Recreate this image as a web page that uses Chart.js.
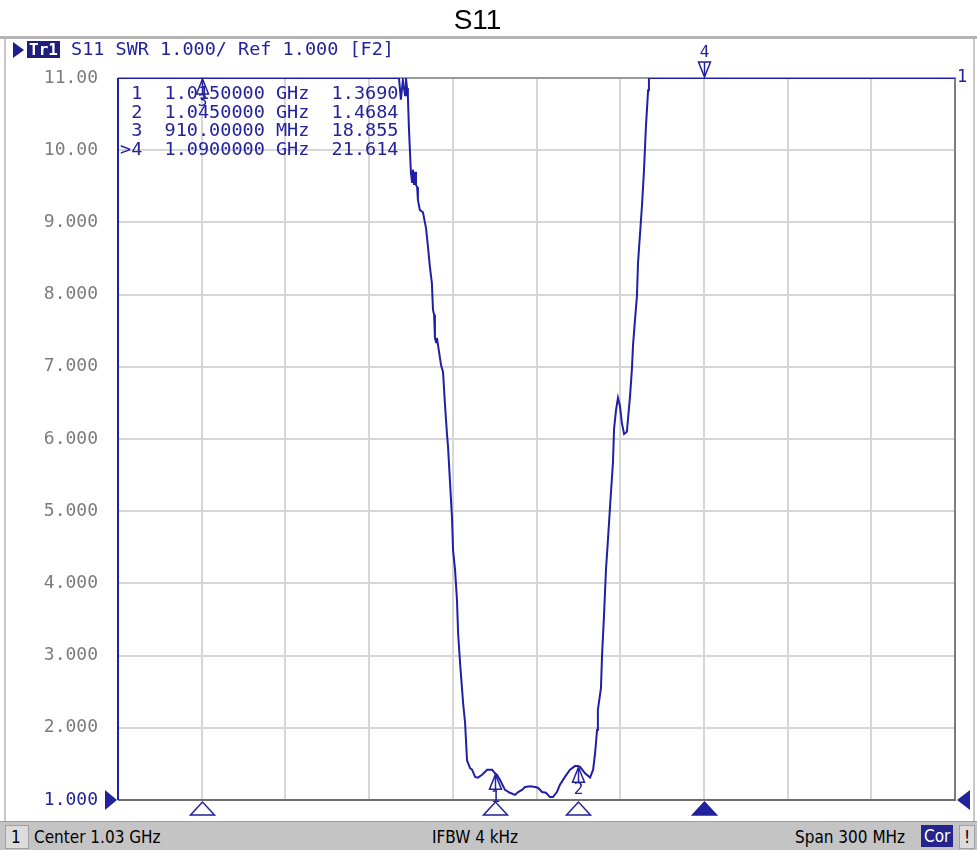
<!DOCTYPE html>
<html><head><meta charset="utf-8">
<script src="https://cdn.jsdelivr.net/npm/chart.js@4.4.1/dist/chart.umd.min.js"></script>
<style>
html,body{margin:0;padding:0;background:#fff;}
#wrap{position:relative;width:977px;height:850px;overflow:hidden;background:#fff;}
#c{position:absolute;left:0;top:0;}
.abs{position:absolute;white-space:pre;}
.mono{font-family:'DejaVu Sans Mono',monospace;font-size:18.5px;color:#22229c;line-height:18.7px;}
.st{font-family:'DejaVu Sans Condensed','Liberation Sans',sans-serif;font-size:17px;color:#000;top:827px;}
</style></head>
<body><div id="wrap">
<canvas id="c" width="977" height="850"></canvas>
<!-- window frame -->
<div class="abs" style="left:0;top:36px;width:977px;height:3px;background:#b4b4b4;"></div>
<div class="abs" style="left:4px;top:39px;width:2px;height:783px;background:#c8c8c8;"></div>
<div class="abs" style="left:973px;top:39px;width:2px;height:783px;background:#c8c8c8;"></div>
<!-- header -->
<div class="abs" style="left:13px;top:42px;width:0;height:0;border-top:8px solid transparent;border-bottom:8px solid transparent;border-left:11px solid #1e1e8c;"></div>
<div class="abs mono" id="tr" style="left:27px;top:41px;height:17px;padding:0 2px;background:#1e1e7c;color:#fff;font-weight:bold;font-size:16px;line-height:17px;"></div>
<div class="abs mono" id="hdr" style="left:71px;top:40px;"></div>
<!-- marker table -->
<div class="abs mono" id="mtab" style="left:120px;top:84px;"></div>
<!-- status bar -->
<div class="abs" style="left:0;top:821px;width:977px;height:29px;background:#c4c4c4;border-top:1px solid #9c9c9c;"></div>
<div class="abs" style="left:5px;top:825px;width:22px;height:22px;background:#dcdcdc;border:1px solid #a0a0a0;"></div>
<div class="abs st" id="s1" style="left:11px;"></div>
<div class="abs st" id="s2" style="left:34px;"></div>
<div class="abs st" id="s3" style="left:432px;"></div>
<div class="abs st" id="s4" style="left:795px;"></div>
<div class="abs st" id="s5" style="left:921px;top:825px;height:22px;line-height:22px;padding:0 3px;background:#24248c;color:#fff;"></div>
<div class="abs st" id="s6" style="left:959px;top:825px;height:22px;line-height:22px;padding:0 4px;background:#dcdcdc;border:1px solid #a0a0a0;"></div>
</div>
<script>
// ---- data ----
const freqMHz = [
 880, 980.7, 981.4, 982.1, 982.9, 983.2, 983.6, 983.9, 984.3, 985.0,
 985.4, 985.7, 986.1, 986.5, 986.8, 987.2, 987.5, 988.2, 989.3, 990.4,
 991.1, 991.8, 992.5, 992.9, 993.3, 993.6, 994.0, 994.3, 994.7, 995.8,
 996.5, 997.2, 997.9, 998.3, 999.0, 999.7, 1000.1, 1000.8, 1001.5, 1001.9,
 1002.6, 1003.7, 1004.4, 1005.1, 1006.2, 1006.9, 1008.0, 1009.0, 1010.5, 1012.3,
 1014.1, 1015.1, 1015.8, 1016.9, 1018.7, 1020.5, 1022.3, 1023.4, 1024.8, 1025.9,
 1027.7, 1029.5, 1030.5, 1032.0, 1033.4, 1034.8, 1035.9, 1037.3, 1038.4, 1040.2,
 1042.0, 1043.8, 1044.9, 1045.6, 1047.4, 1049.2, 1050.3, 1051.0, 1051.7, 1052.0,
 1053.1, 1053.5, 1054.2, 1054.9, 1055.6, 1056.7, 1057.4, 1057.8, 1058.5, 1059.2,
 1059.9, 1060.6, 1061.4, 1062.4, 1062.8, 1063.5, 1064.2, 1064.6, 1065.3, 1066.0,
 1066.4, 1067.1, 1067.8, 1068.5, 1069.2, 1070.0, 1070.3, 1180];
const swr = [
 11, 11, 10.70, 10.97, 10.76, 11, 10.86, 10.74, 10.28, 9.68,
 9.56, 9.73, 9.52, 9.70, 9.52, 9.49, 9.31, 9.17, 9.14, 8.92,
 8.66, 8.38, 8.16, 7.79, 7.72, 7.40, 7.34, 7.40, 7.30, 7.02,
 6.93, 6.47, 6.08, 5.89, 5.40, 4.92, 4.46, 4.19, 3.77, 3.31,
 2.90, 2.34, 2.07, 1.55, 1.44, 1.42, 1.32, 1.31, 1.35, 1.42,
 1.42, 1.37, 1.35, 1.28, 1.14, 1.10, 1.07, 1.11, 1.14, 1.18,
 1.19, 1.18, 1.17, 1.11, 1.10, 1.04, 1.04, 1.11, 1.21, 1.32,
 1.42, 1.47, 1.47, 1.46, 1.37, 1.31, 1.42, 1.65, 1.97, 2.25,
 2.55, 3.01, 3.56, 4.19, 4.60, 5.27, 5.67, 6.14, 6.40, 6.57,
 6.46, 6.22, 6.07, 6.10, 6.28, 6.58, 6.97, 7.30, 7.65, 7.98,
 8.45, 8.84, 9.23, 9.70, 10.31, 10.83, 11, 11];
const yTickLabels = ['1.000','2.000','3.000','4.000','5.000','6.000','7.000','8.000','9.000','10.00','11.00'];
const markerNames = ['1','2','3','4'];
const markerFreq = [1015, 1045, 910, 1090];
const markerSwr = [1.3690, 1.4684, 18.855, 21.614];
const markerRows = [' 1  1.0150000 GHz  1.3690',' 2  1.0450000 GHz  1.4684',' 3  910.00000 MHz  18.855','>4  1.0900000 GHz  21.614'];
const activeMarker = 3;
const headerTrace = 'Tr1';
const headerText = 'S11 SWR 1.000/ Ref 1.000 [F2]';
const statusTexts = ['1','Center 1.03 GHz','IFBW 4 kHz','Span 300 MHz','Cor','!'];
const xMin = 880, xMax = 1180, xStep = 30, yMin = 1, yMax = 11;

document.getElementById('tr').textContent = headerTrace;
document.getElementById('hdr').textContent = headerText;
document.getElementById('mtab').textContent = markerRows.join('\n');
statusTexts.forEach((t,i)=>{document.getElementById('s'+(i+1)).textContent=t;});

const BLUE = '#22229c';
const TRACE = '#1f1fa8';

const vnaPlugin = {
  id:'vna',
  beforeDatasetsDraw(chart){
    const {ctx, chartArea:a} = chart;
    ctx.save();
    ctx.lineWidth = 2;
    ctx.strokeStyle = '#9a9a9a';
    ctx.beginPath(); ctx.moveTo(a.left, a.top); ctx.lineTo(a.right+1, a.top); ctx.stroke();
    ctx.strokeStyle = '#7c7c7c';
    ctx.beginPath(); ctx.moveTo(a.right, a.top); ctx.lineTo(a.right, a.bottom); ctx.stroke();
    ctx.strokeStyle = '#6e6e6e';
    ctx.beginPath(); ctx.moveTo(a.left, a.bottom); ctx.lineTo(a.right+1, a.bottom); ctx.stroke();
    ctx.strokeStyle = TRACE;
    ctx.beginPath(); ctx.moveTo(a.left, a.top); ctx.lineTo(a.left, a.bottom); ctx.stroke();
    ctx.restore();
  },
  afterDatasetsDraw(chart){
    const {ctx, chartArea:a, scales:{x,y}} = chart;
    ctx.save();
    ctx.lineWidth = 1.5;
    ctx.strokeStyle = BLUE; ctx.fillStyle = BLUE;
    ctx.font = '16px "DejaVu Sans Mono", monospace';
    ctx.textAlign = 'center';
    const tri = (cx, apexY, baseY, hw, fill) => {
      ctx.beginPath();
      ctx.moveTo(cx, apexY); ctx.lineTo(cx-hw, baseY); ctx.lineTo(cx+hw, baseY); ctx.closePath();
      if (fill) { ctx.fillStyle = BLUE; ctx.fill(); }
      else { ctx.fillStyle = '#fff'; ctx.fill(); }
      ctx.stroke();
      ctx.fillStyle = BLUE;
    };
    markerFreq.forEach((f,i)=>{
      const px = Math.round(x.getPixelForValue(f)) + 0.5;
      const py = y.getPixelForValue(Math.min(markerSwr[i], yMax));
      if (i === activeMarker) {
        tri(px, py-1, py-16, 6, false);
        ctx.beginPath(); ctx.moveTo(px, py-16); ctx.lineTo(px, py-2); ctx.stroke();
        ctx.textBaseline = 'alphabetic';
        ctx.fillText(markerNames[i], px, py-21);
      } else {
        tri(px, py+1, py+16, 6, false);
        ctx.beginPath(); ctx.moveTo(px, py+2); ctx.lineTo(px, py+16); ctx.stroke();
        ctx.textBaseline = 'top';
        ctx.fillText(markerNames[i], px, py+16);
      }
      // stimulus triangle below axis
      tri(px, a.bottom+2, a.bottom+15, 12, i === activeMarker);
    });
    // trace number at right end
    ctx.textAlign = 'left'; ctx.textBaseline = 'middle';
    ctx.font = '17px "DejaVu Sans Mono", monospace';
    ctx.fillText('1', a.right+2, y.getPixelForValue(swr[swr.length-1]));
    // reference level triangles
    const ry = y.getPixelForValue(yMin);
    ctx.beginPath(); ctx.moveTo(a.left-13, ry-10); ctx.lineTo(a.left-13, ry+10); ctx.lineTo(a.left-1, ry); ctx.closePath(); ctx.fill();
    ctx.beginPath(); ctx.moveTo(a.right+15, ry-10); ctx.lineTo(a.right+15, ry+10); ctx.lineTo(a.right+2, ry); ctx.closePath(); ctx.fill();
    ctx.restore();
  }
};

new Chart(document.getElementById('c'), {
  type: 'line',
  data: {
    datasets: [{
      label: 'S11',
      data: freqMHz.map((f,i)=>({x:f, y:swr[i]})),
      borderColor: TRACE,
      borderWidth: 2,
      pointRadius: 0,
      tension: 0,
      fill: false
    }]
  },
  options: {
    responsive: false,
    animation: false,
    devicePixelRatio: 1,
    layout: { padding: { left: 0, right: 22, top: 0, bottom: 50 } },
    plugins: {
      legend: { display: false },
      tooltip: { enabled: false },
      title: {
        display: true, text: 'S11', color: '#000',
        font: { family: '"Liberation Sans", Arial, sans-serif', size: 28, weight: 'normal', lineHeight: 1.2 },
        padding: { top: 4, bottom: 40.4 }
      }
    },
    scales: {
      x: {
        type: 'linear', min: xMin, max: xMax,
        ticks: { stepSize: xStep, display: false },
        grid: { color: '#d6d6d6', lineWidth: 2, drawTicks: false },
        border: { display: false },
        afterFit: s => { s.height = 0; }
      },
      y: {
        min: yMin, max: yMax,
        ticks: {
          stepSize: 1, padding: 20,
          callback: (v, i) => yTickLabels[i],
          color: c => c.index === 0 ? BLUE : '#7c7c7c',
          font: { family: '"DejaVu Sans Mono", monospace', size: 18 }
        },
        grid: { color: '#d6d6d6', lineWidth: 2, drawTicks: false },
        border: { display: false },
        afterFit: s => { s.width = 118; }
      }
    }
  },
  plugins: [vnaPlugin]
});
</script>
</body></html>
